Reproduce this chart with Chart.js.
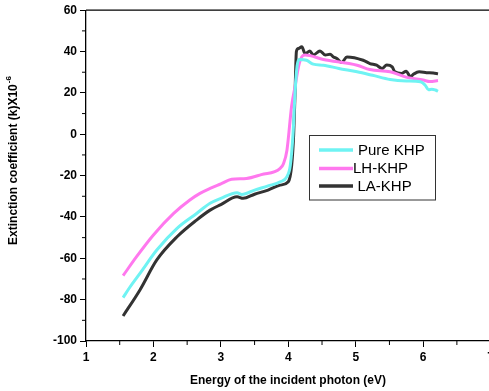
<!DOCTYPE html>
<html>
<head>
<meta charset="utf-8">
<script src="https://cdn.jsdelivr.net/npm/chart.js@4.4.0/dist/chart.umd.min.js"></script>
<style>
  html, body { margin: 0; padding: 0; overflow: hidden; background: #fff; }
  canvas { display: block; }
</style>
</head>
<body>
<canvas id="chart" width="500" height="391"></canvas>
<script>
// values
const pureX = [1.55, 1.65, 1.8, 2.05, 2.35, 2.64, 2.84, 3.0, 3.24, 3.31, 3.5, 3.7, 3.88, 3.98, 4.03, 4.07, 4.1, 4.13, 4.16, 4.27, 4.37, 4.52, 4.75, 5.02, 5.25, 5.51, 5.75, 5.96, 6.03, 6.08, 6.13, 6.18, 6.22];
const pureY = [-79, -74, -67.3, -56, -45.5, -38.3, -33.4, -31, -28.3, -29.1, -27, -25, -23, -20.5, -15, 0, 20, 33, 36.2, 35.8, 33.9, 33.4, 31.8, 30.2, 28.5, 26.5, 25.8, 25.4, 23.7, 21.5, 21.8, 21.4, 20.8];

const lhX = [1.55, 1.75, 2.0, 2.3, 2.54, 2.69, 2.84, 3.0, 3.16, 3.38, 3.6, 3.88, 3.93, 3.98, 4.05, 4.1, 4.15, 4.2, 4.25, 4.52, 5.02, 5.21, 5.51, 5.76, 6.0, 6.1, 6.22];
const lhY = [-68.4, -59.2, -48.7, -38.3, -31.8, -28.6, -26.2, -24, -21.8, -21.4, -19.5, -16.5, -14.1, -7.7, 13.8, 23, 32.5, 37.5, 38.3, 36.2, 33.4, 31.3, 30.2, 27.5, 26.2, 25.5, 26];

const laX = [1.55, 1.8, 2.05, 2.35, 2.64, 2.84, 3.0, 3.24, 3.33, 3.5, 3.7, 3.88, 4.0, 4.05, 4.08, 4.1, 4.12, 4.15, 4.2, 4.25, 4.32, 4.37, 4.47, 4.55, 4.62, 4.67, 4.72, 4.79, 4.87, 5.11, 5.21, 5.31, 5.39, 5.46, 5.54, 5.58, 5.68, 5.75, 5.81, 5.86, 5.94, 6.05, 6.15, 6.22];
const laY = [-87.9, -75.3, -60.8, -49.6, -41.5, -36.7, -34, -30.2, -31, -29, -27, -24.6, -23, -15, 0, 20, 40, 41.5, 42.3, 39, 40.3, 38.3, 40.3, 38.3, 38.7, 37.4, 36.6, 34.7, 37.4, 35.8, 34.2, 33.4, 31.8, 33.5, 32.6, 30.2, 29.4, 30.5, 27.8, 29.1, 30.2, 29.8, 29.6, 29.2];

const seriesNames = ['Pure KHP', 'LH-KHP', 'LA-KHP'];
const seriesColors = ['#6ff3f3', '#ff78ee', '#333333'];
const xTicks = [1, 2, 3, 4, 5, 6, 7];
const yTicks = [-100, -80, -60, -40, -20, 0, 20, 40, 60];

function toPoints(xs, ys) {
  return xs.map((x, i) => ({ x: x, y: ys[i] }));
}

const FONT = 'Arial, "Liberation Sans", sans-serif';

// frame, minor ticks, axis titles and the boxed legend
const extras = {
  id: 'extras',
  afterDraw(chart) {
    const ctx = chart.ctx;
    const a = chart.chartArea;
    const xs = chart.scales.x, ys = chart.scales.y;
    ctx.save();
    ctx.strokeStyle = '#000';
    ctx.lineWidth = 1.3;
    ctx.beginPath();
    ctx.moveTo(a.left, a.top);
    ctx.lineTo(a.right, a.top);
    ctx.lineTo(a.right, a.bottom);
    ctx.stroke();

    // minor ticks halfway between labels
    ctx.lineWidth = 1;
    ctx.beginPath();
    for (let i = 0; i < xTicks.length - 1; i++) {
      const px = xs.getPixelForValue((xTicks[i] + xTicks[i + 1]) / 2);
      ctx.moveTo(px, a.bottom);
      ctx.lineTo(px, a.bottom + 4);
    }
    for (let i = 0; i < yTicks.length - 1; i++) {
      const py = ys.getPixelForValue((yTicks[i] + yTicks[i + 1]) / 2);
      ctx.moveTo(a.left, py);
      ctx.lineTo(a.left - 4, py);
    }
    ctx.stroke();

    // axis titles
    ctx.fillStyle = '#000';
    ctx.font = 'bold 12px ' + FONT;
    ctx.textAlign = 'center';
    ctx.textBaseline = 'middle';
    ctx.fillText('Energy of the incident photon (eV)', 288, 381);

    const main = 'Extinction coefficient (k)X10';
    const sup = '-6';
    const wMain = ctx.measureText(main).width;
    ctx.font = 'bold 8px ' + FONT;
    const wSup = ctx.measureText(sup).width;
    ctx.translate(14, 161);
    ctx.rotate(-Math.PI / 2);
    ctx.textAlign = 'left';
    const start = -(wMain + wSup) / 2;
    ctx.font = 'bold 12px ' + FONT;
    ctx.fillText(main, start, 0);
    ctx.font = 'bold 8px ' + FONT;
    ctx.fillText(sup, start + wMain + 1, -5);
    ctx.restore();

    // legend box
    ctx.save();
    ctx.strokeStyle = '#333';
    ctx.lineWidth = 1;
    ctx.strokeRect(309.5, 135.5, 126, 64.5);
    const rows = [150, 168.5, 186];
    const textX = [358, 353, 357.5];
    ctx.font = '15px ' + FONT;
    ctx.textBaseline = 'middle';
    ctx.textAlign = 'left';
    seriesNames.forEach((name, i) => {
      ctx.strokeStyle = seriesColors[i];
      ctx.lineWidth = 3.5;
      ctx.beginPath();
      ctx.moveTo(319, rows[i]);
      ctx.lineTo(353, rows[i]);
      ctx.stroke();
      ctx.fillStyle = '#000';
      ctx.fillText(name, textX[i], rows[i] + 0.5);
    });
    ctx.restore();
  }
};

const datasets = [
  { label: seriesNames[0], data: toPoints(pureX, pureY) },
  { label: seriesNames[1], data: toPoints(lhX, lhY) },
  { label: seriesNames[2], data: toPoints(laX, laY) }
].map((d, i) => Object.assign(d, {
  borderColor: seriesColors[i],
  backgroundColor: seriesColors[i],
  borderWidth: 3,
  pointRadius: 0,
  showLine: true,
  cubicInterpolationMode: 'monotone',
  fill: false
}));

new Chart(document.getElementById('chart'), {
  type: 'scatter',
  data: { datasets: datasets },
  options: {
    responsive: false,
    animation: false,
    layout: { padding: { left: 0, top: 10, right: 9.4, bottom: 0 } },
    plugins: { legend: { display: false }, tooltip: { enabled: false } },
    scales: {
      x: {
        type: 'linear',
        min: xTicks[0],
        max: xTicks[xTicks.length - 1],
        afterBuildTicks: s => { s.ticks = xTicks.map(v => ({ value: v })); },
        afterFit: s => { s.height = 50; },
        grid: { drawOnChartArea: false, drawTicks: true, tickLength: 6, color: '#000', tickWidth: 1 },
        border: { display: true, color: '#000', width: 1.3 },
        ticks: { color: '#000', padding: 3, font: { family: FONT, size: 12, weight: 'bold' } }
      },
      y: {
        type: 'linear',
        min: yTicks[0],
        max: yTicks[yTicks.length - 1],
        afterBuildTicks: s => { s.ticks = yTicks.map(v => ({ value: v })); },
        afterFit: s => { s.width = 86; },
        grid: { drawOnChartArea: false, drawTicks: true, tickLength: 6, color: '#000', tickWidth: 1 },
        border: { display: true, color: '#000', width: 1.3 },
        ticks: { color: '#000', padding: 3, font: { family: FONT, size: 12, weight: 'bold' } }
      }
    }
  },
  plugins: [extras]
});
</script>
</body>
</html>
